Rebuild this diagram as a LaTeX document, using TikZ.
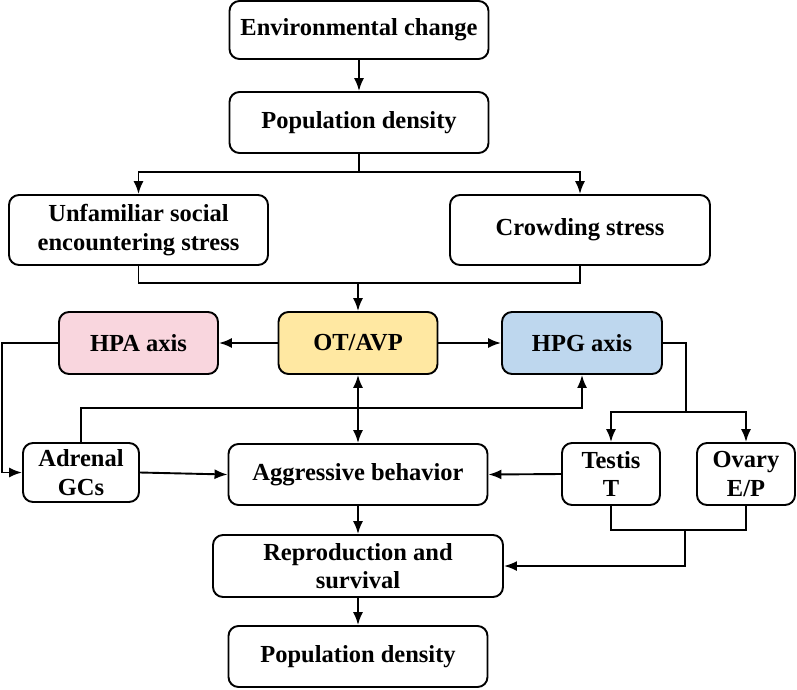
\documentclass[tikz,border=0pt]{standalone}
\usepackage{fontspec}
\setmainfont{Liberation Serif}
\usetikzlibrary{arrows.meta}
\definecolor{hpapink}{RGB}{249,214,222}
\definecolor{otyellow}{RGB}{255,232,162}
\definecolor{hpgblue}{RGB}{190,215,238}
\tikzset{
  box/.style={draw=black, line width=1.9pt, rounded corners=10pt, fill=white,
    align=center, inner sep=2pt,
    font=\fontsize{24.5}{28.5}\selectfont\bfseries},
  conn/.style={line width=1.9pt, draw=black},
  arr/.style={conn, -{Latex[length=13pt,width=10pt]}},
  darr/.style={conn, {Latex[length=13pt,width=10pt]}-{Latex[length=13pt,width=10pt]}},
}
\begin{document}
\begin{tikzpicture}[x=1pt,y=-1pt]
\useasboundingbox (0,0) rectangle (797,689);
% nodes
\node[box, minimum width=259, minimum height=58] (env) at (359,30) {Environmental change};
\node[box, minimum width=259, minimum height=61] (pop1) at (359,122.5) {Population density};
\node[box, minimum width=259, minimum height=70] (unf) at (138.5,230) {Unfamiliar social\\encountering stress};
\node[box, minimum width=260, minimum height=70] (crowd) at (580,230) {Crowding stress};
\node[box, fill=hpapink, minimum width=159, minimum height=62] (hpa) at (138.5,343) {HPA axis};
\node[box, fill=otyellow, minimum width=159, minimum height=62] (ot) at (358,343) {OT/AVP};
\node[box, fill=hpgblue, minimum width=160, minimum height=62] (hpg) at (582,343) {HPG axis};
\node[box, minimum width=116, minimum height=59] (adr) at (81,472.5) {Adrenal\\GCs};
\node[box, minimum width=259, minimum height=61] (agg) at (358,474.5) {Aggressive behavior};
\node[box, minimum width=98, minimum height=62] (tes) at (611,474) {Testis\\T};
\node[box, minimum width=98, minimum height=62] (ova) at (746,474) {Ovary\\E/P};
\node[box, minimum width=290, minimum height=62] (rep) at (358,566) {Reproduction and\\survival};
\node[box, minimum width=259, minimum height=61] (pop2) at (358,656.5) {Population density};
% junction coordinates
\coordinate (j1) at (359,172);
\coordinate (j2) at (358,283);
\coordinate (jl) at (2,343);
\coordinate (jh) at (582,408);
\coordinate (jr) at (686,343);
\coordinate (jr2) at (686,412);
\coordinate (jb) at (685,530);
% connectors
\draw[arr] (env) -- (pop1);
\draw[conn] (pop1.south) -- (j1);
\draw[arr] (j1) -| (unf.north);
\draw[arr] (j1) -| (crowd.north);
\draw[conn] (unf.south) |- (j2);
\draw[conn] (crowd.south) |- (j2);
\draw[arr] (j2) -- (ot.north);
\draw[arr] (ot.west) -- (hpa.east);
\draw[arr] (ot.east) -- (hpg.west);
\draw[arr] (hpa.west) -- (jl) |- (adr.west);
\draw[arr] (adr.north) |- (jh) -- (hpg.south);
\draw[darr] (ot.south) -- (agg.north);
\draw[arr] (adr.east) -- (agg.west);
\draw[conn] (hpg.east) -- (jr) -- (jr2);
\draw[arr] (jr2) -| (tes.north);
\draw[arr] (jr2) -| (ova.north);
\draw[arr] (tes.west) -- (agg.east);
\draw[arr] (agg.south) -- (rep.north);
\draw[conn] (tes.south) |- (jb);
\draw[conn] (ova.south) |- (jb);
\draw[arr] (jb) |- (rep.east);
\draw[arr] (rep.south) -- (pop2.north);
\end{tikzpicture}
\end{document}
